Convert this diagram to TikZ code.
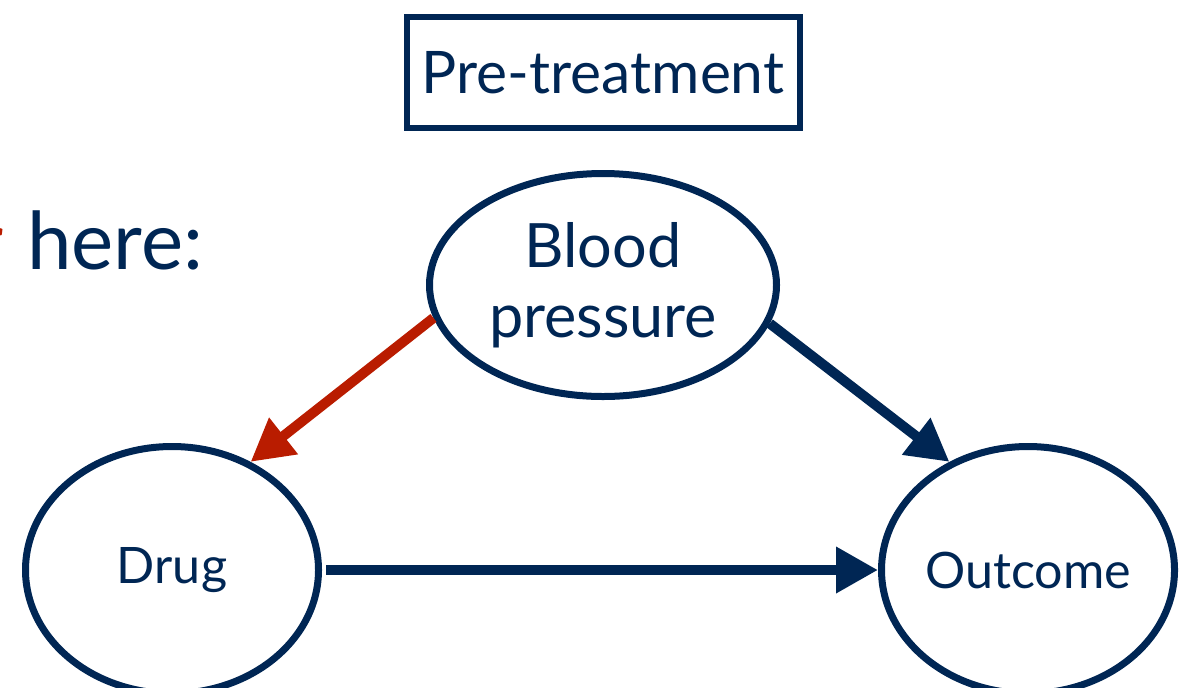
\documentclass[tikz,border=0pt]{standalone}
\usepackage{fontspec}
\setmainfont{Lato}
\usetikzlibrary{shapes.geometric,arrows.meta}
\definecolor{navy}{RGB}{0,38,84}
\definecolor{brickred}{RGB}{185,28,0}

\begin{document}
\begin{tikzpicture}
	[
	align=center,
	var/.style={ellipse, draw=navy, line width=0.07cm, text=navy, inner sep=0pt,
		minimum width=2.93cm, minimum height=2.47cm, font=\fontsize{14.3}{17}\selectfont},
	edge/.style={line width=0.1cm, draw=navy, fill=navy, -{Triangle[length=0.42cm,width=0.44cm]}},
	]
		\useasboundingbox (0,0) rectangle (11.79,-6.87);
		\clip (0,0) rectangle (11.79,-6.87);
		
		% label box
		\node[draw=navy, line width=0.06cm, text=navy, inner sep=0pt,
			minimum width=3.93cm, minimum height=1.11cm,
			font=\fontsize{16.7}{20}\selectfont] (pre) at ( 6.03, -0.725) {Pre-treatment};
		
		% side text, cut at the left edge
		\node[anchor=base east, inner sep=0pt, text=navy,
			font=\fontsize{22.7}{27}\selectfont] (here) at ( 2.04, -2.69) {\textcolor{brickred}{r}\hspace{0.03cm} here:};
		
		% confounder
		\node[var, minimum width=3.47cm, minimum height=2.23cm,
			font=\fontsize{17.4}{19.9}\selectfont] (bp) at ( 6.03, -2.85) {Blood\\pressure};
		
		% treatment and outcome
		\node[var] (dr) at ( 1.72, -5.70) {Drug};
		\node[var] (oc) at (10.28, -5.70) {Outcome};
		
		\draw[edge, draw=brickred, fill=brickred] (bp.191) -- (dr.54);
		\draw[edge] (bp.-13) -- (oc.126);
		\draw[edge, shorten <=0.04cm] (dr.east) -- (oc.west);
		
	\end{tikzpicture}
\end{document}
